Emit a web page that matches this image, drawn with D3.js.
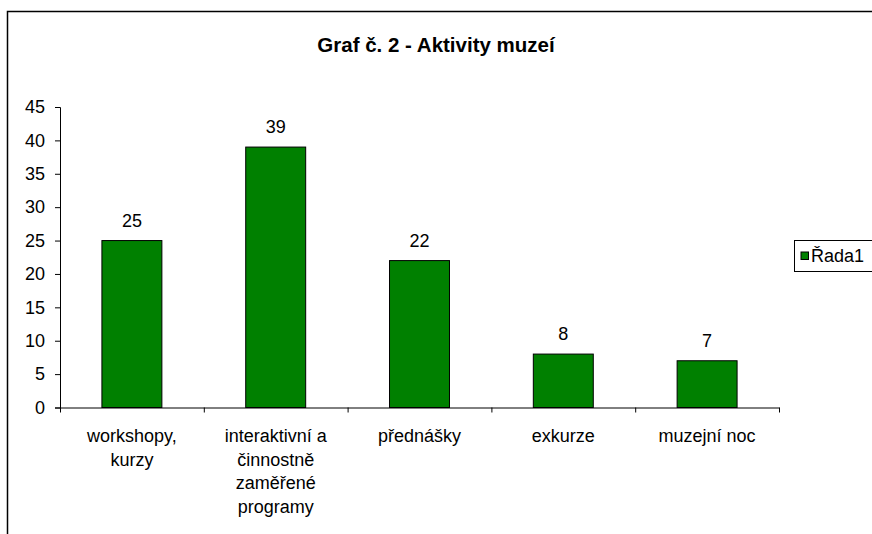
<!DOCTYPE html>
<html><head><meta charset="utf-8">
<script src="https://cdn.jsdelivr.net/npm/d3@7"></script>
<style>body{margin:0;background:#fff}svg{display:block}text{font-family:"Liberation Sans",Arial,sans-serif}</style>
</head><body>
<script>
const categories = [["workshopy,","kurzy"],["interaktivní a","činnostně","zaměřené","programy"],["přednášky"],["exkurze"],["muzejní noc"]];
const values = [25,39,22,8,7];
const yTicks = [0,5,10,15,20,25,30,35,40,45];
const seriesName = "Řada1";
const title = "Graf č. 2 - Aktivity muzeí";

const W=872,H=534, FS=18;
const svg=d3.select("body").append("svg").attr("width",W).attr("height",H);
svg.append("rect").attr("x",7.5).attr("y",11.5).attr("width",900).attr("height",600).attr("fill","#fff").attr("stroke","#000").attr("stroke-width",1.5);

svg.append("text").attr("x",436).attr("y",52).attr("text-anchor","middle").attr("font-size",20.5).attr("font-weight","bold").text(title);

const x=d3.scaleBand().domain(d3.range(values.length)).range([60,779]).paddingInner(0.583).paddingOuter(0.2915);
const y=d3.scaleLinear().domain([0,45]).range([407.5,107]);

svg.selectAll("rect.bar").data(values).join("rect").attr("class","bar")
 .attr("x",(d,i)=>x(i)).attr("width",x.bandwidth())
 .attr("y",d=>y(d)).attr("height",d=>y(0)-y(d))
 .attr("fill","#008000").attr("stroke","#000").attr("stroke-width",1);

svg.selectAll("text.val").data(values).join("text").attr("class","val")
 .attr("x",(d,i)=>x(i)+x.bandwidth()/2).attr("y",d=>y(d)-14)
 .attr("text-anchor","middle").attr("font-size",FS).text(d=>d);

// y axis
const ya=svg.append("g").attr("transform","translate(60,0)")
 .call(d3.axisLeft(y).tickValues(yTicks).tickSize(5).tickPadding(10));
ya.select(".domain").attr("stroke","#000");
ya.selectAll(".tick line").attr("stroke","#000");
ya.selectAll(".tick text").attr("font-size",FS).attr("fill","#000").attr("font-family","Liberation Sans, Arial, sans-serif");

// x axis
const xl=d3.scaleLinear().domain([0,values.length]).range([60,779]);
const xa=svg.append("g").attr("transform","translate(0,407.5)")
 .call(d3.axisBottom(xl).tickValues(d3.range(values.length+1)).tickSize(5).tickSizeOuter(0).tickFormat(""));
xa.select(".domain").attr("stroke","#000");
xa.selectAll(".tick line").attr("stroke","#000");

categories.forEach((lines,i)=>{
  const t=svg.append("text").attr("x",x(i)+x.bandwidth()/2).attr("y",442).attr("text-anchor","middle").attr("font-size",FS);
  lines.forEach((l,j)=>t.append("tspan").attr("x",x(i)+x.bandwidth()/2).attr("dy",j?23.5:0).text(l));
});

// legend
svg.append("rect").attr("x",794.5).attr("y",240.5).attr("width",90).attr("height",31).attr("fill","#fff").attr("stroke","#000");
svg.append("rect").attr("x",801).attr("y",252).attr("width",7.5).attr("height",7.5).attr("fill","#008000").attr("stroke","#000");
svg.append("text").attr("x",811).attr("y",262).attr("font-size",FS).text(seriesName);
</script>
</body></html>
